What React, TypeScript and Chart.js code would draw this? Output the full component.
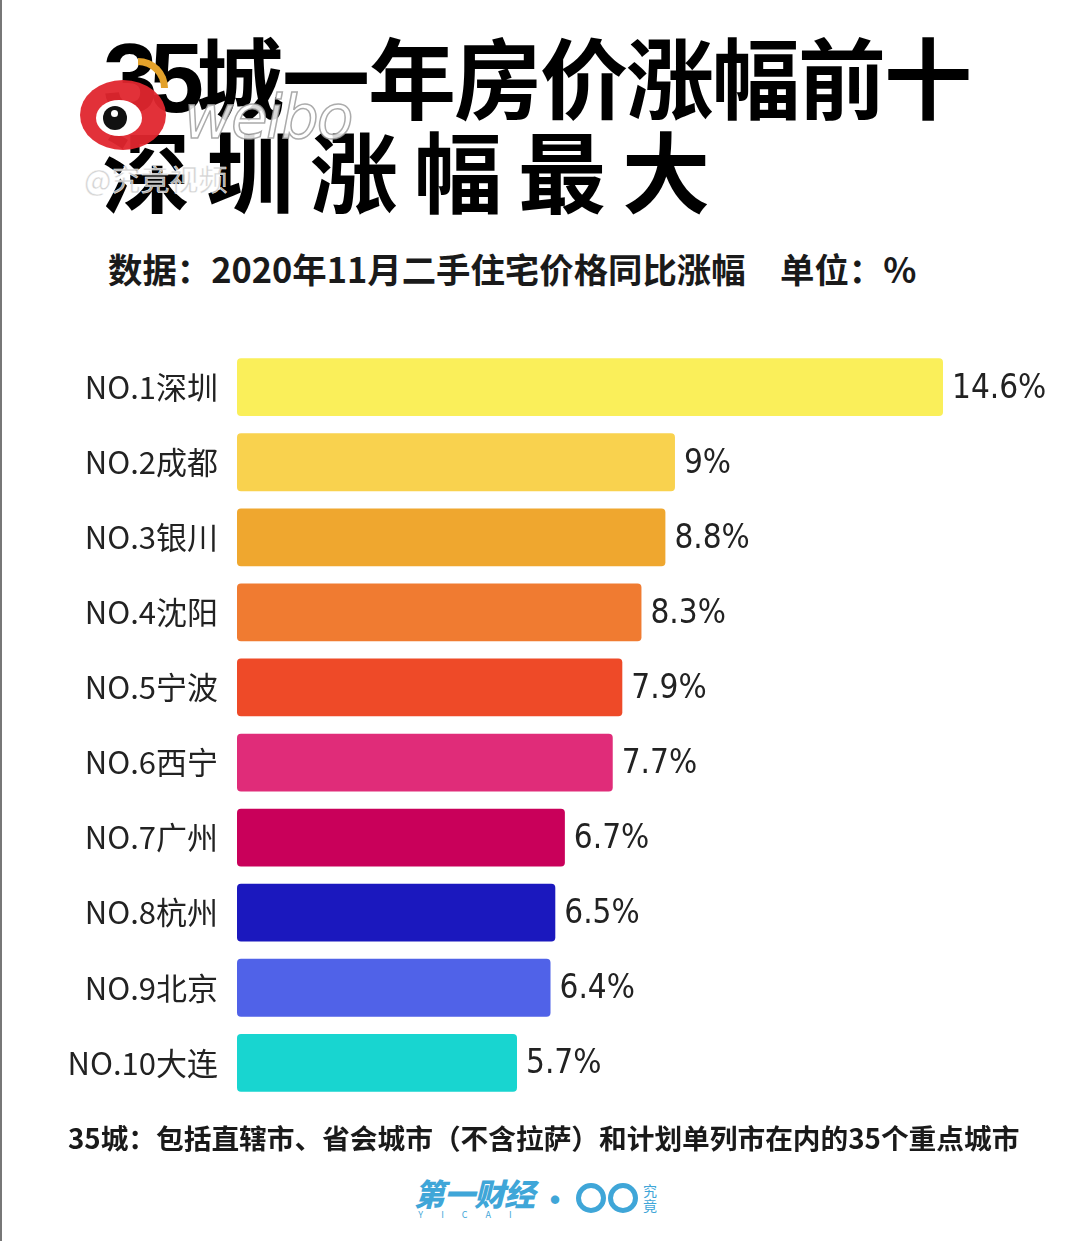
import React, { useEffect, useRef } from "react";
import { Chart, registerables } from "chart.js";

Chart.register(...registerables);

const cities: string[] = ["NO.1深圳", "NO.2成都", "NO.3银川", "NO.4沈阳", "NO.5宁波", "NO.6西宁", "NO.7广州", "NO.8杭州", "NO.9北京", "NO.10大连"];
const growth: number[] = [14.6, 9, 8.8, 8.3, 7.9, 7.7, 6.7, 6.5, 6.4, 5.7];
const valueLabels: string[] = ["14.6%", "9%", "8.8%", "8.3%", "7.9%", "7.7%", "6.7%", "6.5%", "6.4%", "5.7%"];
const barColors: string[] = ["#FAEF5A", "#F9D24E", "#EFA72F", "#F07B31", "#EE4A28", "#E02C79", "#C9005A", "#1B18BE", "#5062E8", "#18D5D0"];

const titleNumber = "35";
const titleLine1 = "城一年房价涨幅前十";
const titleLine2 = "深圳涨幅最大";
const subtitle = "数据：2020年11月二手住宅价格同比涨幅　单位：%";
const footnote = "35城：包括直辖市、省会城市（不含拉萨）和计划单列市在内的35个重点城市";

const CJK = '"Noto Sans CJK SC", "Noto Sans", sans-serif';

export default function App() {
  const ref = useRef<HTMLCanvasElement | null>(null);

  useEffect(() => {
    document.body.style.margin = "0";
    const canvas = ref.current;
    if (!canvas) return;
    const valuePlugin = {
      id: "valueLabels",
      afterDatasetsDraw(chart: any) {
        const ctx = chart.ctx;
        const meta = chart.getDatasetMeta(0);
        ctx.save();
        ctx.font = '33px "DejaVu Sans Condensed", "DejaVu Sans", sans-serif';
        ctx.fillStyle = "#222222";
        ctx.textAlign = "left";
        ctx.textBaseline = "middle";
        meta.data.forEach((bar: any, i: number) => {
          ctx.fillText(valueLabels[i], bar.x + 9, bar.y + 2);
        });
        ctx.restore();
      },
    };
    const chart = new Chart(canvas, {
      type: "bar",
      data: {
        labels: cities,
        datasets: [
          {
            data: growth,
            backgroundColor: barColors,
            borderWidth: 0,
            borderRadius: 4,
            borderSkipped: false,
            barPercentage: 0.77,
            categoryPercentage: 1,
            base: -0.15,
          } as any,
        ],
      },
      options: {
        indexAxis: "y",
        responsive: false,
        animation: false,
        layout: { padding: { top: 0, bottom: 0, left: 0, right: 137 } },
        plugins: { legend: { display: false }, tooltip: { enabled: false } },
        scales: {
          x: { display: false, min: -0.15, max: 14.6 },
          y: {
            grid: { display: false, drawTicks: false },
            border: { display: false },
            ticks: {
              padding: 19,
              color: "#222222",
              font: { family: '"Liberation Sans Narrow", "Noto Sans CJK SC", sans-serif', size: 31 },
            },
            afterFit(scale: any) {
              scale.width = 237;
            },
          },
        },
      },
      plugins: [valuePlugin],
    });
    return () => chart.destroy();
  }, []);

  return (
    <div
      style={{
        position: "fixed",
        left: 0,
        top: 0,
        width: 1080,
        height: 1241,
        background: "#ffffff",
        overflow: "hidden",
        fontFamily: CJK,
      }}
    >
      <div style={{ position: "absolute", left: 0, top: 0, width: 2, height: 1241, background: "#777" }} />
      <div style={{ position: "absolute", left: 103, top: 29, fontSize: 88, fontWeight: 700, lineHeight: "90px", color: "#000", whiteSpace: "nowrap" }}>
        <span style={{ fontFamily: '"Liberation Sans Narrow", "Liberation Sans", sans-serif', fontSize: 98, letterSpacing: -8, fontWeight: 700 }}>{titleNumber}</span>
        <span style={{ letterSpacing: -2 }}>{titleLine1}</span>
      </div>
      <div style={{ position: "absolute", left: 102, top: 123, fontSize: 88, fontWeight: 700, lineHeight: "90px", letterSpacing: 16, color: "#000", whiteSpace: "nowrap" }}>
        {titleLine2}
      </div>
      <div style={{ position: "absolute", left: 108, top: 244, fontSize: 34.4, fontWeight: 700, lineHeight: "48px", color: "#1a1a1a", whiteSpace: "nowrap" }}>
        {subtitle}
      </div>
      <canvas ref={ref} width={1080} height={826} style={{ position: "absolute", left: 0, top: 312, width: 1080, height: 826 }} />
      <div style={{ position: "absolute", left: 68, top: 1117, fontSize: 27.7, fontWeight: 700, lineHeight: "40px", color: "#1a1a1a", whiteSpace: "nowrap" }}>
        {footnote}
      </div>
      {/* bottom logo */}
      <div style={{ position: "absolute", left: 414, top: 1176, display: "flex", alignItems: "center", color: "#3FA6D8", whiteSpace: "nowrap" }}>
        <div style={{ display: "flex", flexDirection: "column", alignItems: "center" }}>
          <span style={{ fontSize: 31, fontWeight: 900, lineHeight: "34px", fontStyle: "italic", letterSpacing: -1 }}>第一财经</span>
          <span style={{ fontSize: 9, lineHeight: "10px", letterSpacing: 18 }}>YICAI</span>
        </div>
        <span style={{ fontSize: 30, fontWeight: 900, margin: "0 6px" }}>·</span>
        <div style={{ width: 30, height: 30, borderRadius: "50%", border: "5px solid #3FA6D8", boxSizing: "border-box" }} />
        <div style={{ width: 30, height: 30, borderRadius: "50%", border: "5px solid #3FA6D8", boxSizing: "border-box", marginLeft: 2 }} />
        <div style={{ display: "flex", flexDirection: "column", fontSize: 14, lineHeight: "15px", marginLeft: 5 }}>
          <span>究</span>
          <span>竟</span>
        </div>
      </div>
      {/* weibo watermark */}
      <div style={{ position: "absolute", left: 80, top: 80, width: 86, height: 70, borderRadius: "50%", background: "#E0262E", opacity: 0.95 }} />
      <div style={{ position: "absolute", left: 96, top: 100, width: 46, height: 36, borderRadius: "50%", background: "#ffffff" }} />
      <div style={{ position: "absolute", left: 103, top: 106, width: 24, height: 24, borderRadius: "50%", background: "#111" }} />
      <div style={{ position: "absolute", left: 111, top: 110, width: 7, height: 7, borderRadius: "50%", background: "#fff" }} />
      <div style={{ position: "absolute", left: 138, top: 58, width: 30, height: 30, borderTopRightRadius: 30, borderTop: "7px solid #E3A12A", borderRight: "7px solid #E3A12A", boxSizing: "border-box" }} />
      <div style={{ position: "absolute", left: 184, top: 82, fontFamily: '"DejaVu Sans", sans-serif', fontSize: 60, fontStyle: "italic", color: "rgba(255,255,255,0.85)", WebkitTextStroke: "1.5px rgba(150,150,150,0.8)", lineHeight: "70px", letterSpacing: -2 } as any}>
        weibo
      </div>
      <div style={{ position: "absolute", left: 84, top: 160, fontSize: 29, color: "rgba(205,205,205,0.85)", WebkitTextStroke: "0.5px rgba(255,255,255,0.9)", lineHeight: "36px" } as any}>
        @究竟视频
      </div>
    </div>
  );
}
